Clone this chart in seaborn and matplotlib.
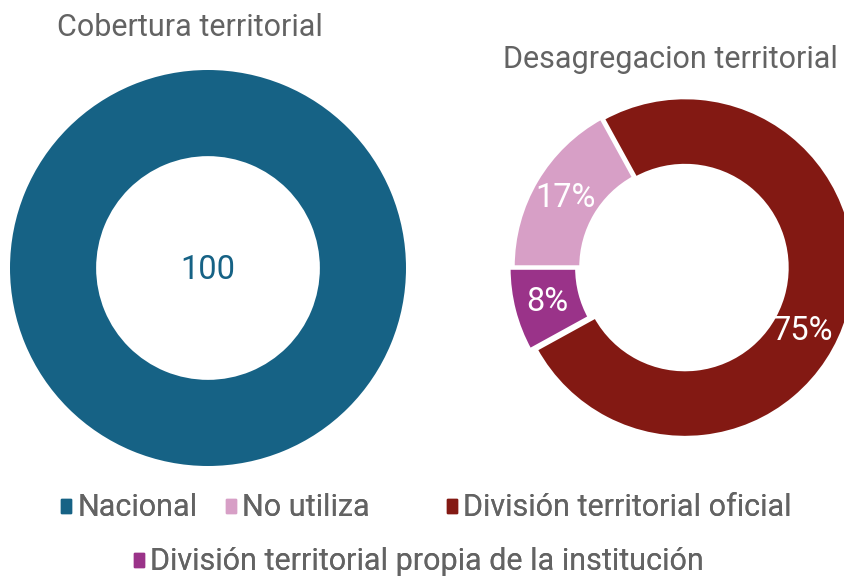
import numpy as np
import matplotlib.pyplot as plt
import seaborn as sns
from matplotlib.patches import Patch

# data
cobertura_labels = ['Nacional']
cobertura_values = [100]
desag_labels = ['No utiliza', 'División territorial propia de la institución', 'División territorial oficial']
desag_values = [17, 8, 75]

blue = '#166285'
colors_desag = ['#D79FC6', '#9A3389', '#831913']
gray = '#636363'

sns.set_theme(style='white')
plt.rcParams['font.family'] = ['Roboto', 'DejaVu Sans']

fig = plt.figure(figsize=(8.44, 5.78), dpi=100)
W, H = 844, 578

def px_axes(left, top, size):
    return fig.add_axes([left / W, 1 - (top + size) / H, size / W, size / H])

# left donut
ax1 = px_axes(10, 70, 396)
ax1.pie(cobertura_values, colors=[blue], startangle=90,
        wedgeprops=dict(width=0.435, edgecolor='white', linewidth=0))
ax1.set_xlim(-1, 1)
ax1.set_ylim(-1, 1)
ax1.text(0, -0.01, str(cobertura_values[0]), ha='center', va='center',
         fontsize=23.5, color=blue)
fig.text(190 / W, 1 - 28 / H, 'Cobertura territorial', ha='center', va='center',
         fontsize=22, color=gray)

# right donut
ax2 = px_axes(513, 97, 340)
wedges, texts, autotexts = ax2.pie(
    desag_values, colors=colors_desag, startangle=180 - desag_values[0] * 3.6,
    explode=[0.0, 0.025, 0.012], autopct='%1.0f%%', pctdistance=0.8,
    wedgeprops=dict(width=0.4, edgecolor='white', linewidth=2.5),
    textprops=dict(color='white', fontsize=23.5))
ax2.set_xlim(-1, 1)
ax2.set_ylim(-1, 1)
# Excel-style best-fit spot for the big slice label
ang = np.deg2rad(-28)
autotexts[2].set_position((0.8 * np.cos(ang), 0.8 * np.sin(ang)))
fig.text(670 / W, 1 - 60 / H, 'Desagregacion territorial', ha='center', va='center',
         fontsize=22, color=gray)

# legends, one entry each to keep the Excel spacing
leg_kw = dict(frameon=False, fontsize=22, labelcolor=gray, handlelength=0.33,
              handleheight=0.33, handletextpad=0.2, borderpad=0, borderaxespad=0,
              loc='center left')
entries = [
    (blue, cobertura_labels[0], 61, 508),
    (colors_desag[0], desag_labels[0], 226, 508),
    (colors_desag[2], desag_labels[2], 447, 508),
    (colors_desag[1], desag_labels[1], 134, 562),
]
for col, lab, x, y in entries:
    leg = fig.legend([Patch(color=col)], [lab], bbox_to_anchor=(x / W, 1 - y / H), **leg_kw)
    fig.add_artist(leg)

fig.savefig('out.png', dpi=100, facecolor='white')
